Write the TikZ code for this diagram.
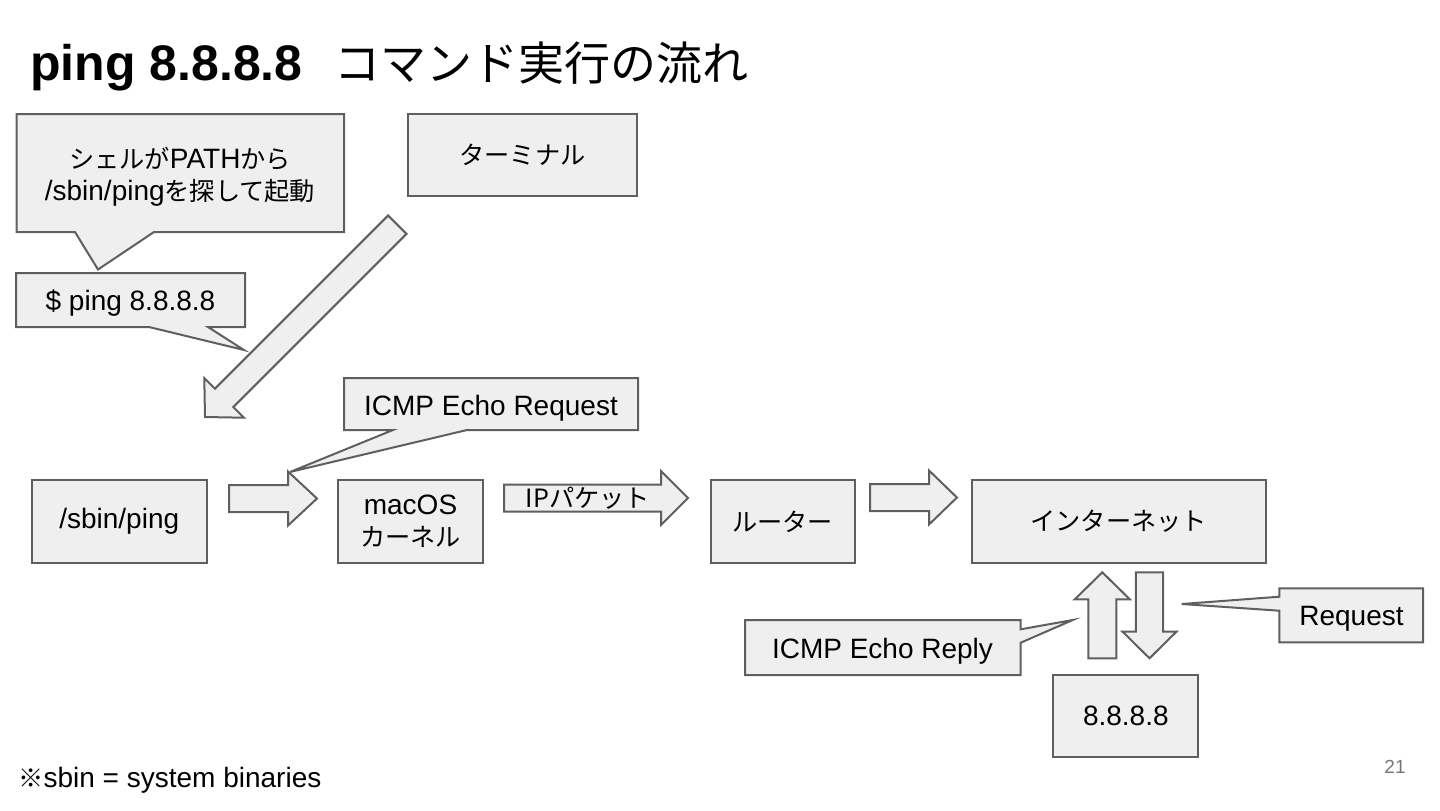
\documentclass[tikz,border=0pt]{standalone}
\usepackage{fontspec}
\setmainfont{Liberation Sans}
\newfontfamily\cjk[Scale=0.9]{Noto Sans CJK JP}
\newfontfamily\cjktitle{Noto Sans CJK JP}
\definecolor{boxfill}{HTML}{EFEFEF}
\definecolor{linegray}{HTML}{5F5F5F}
\definecolor{pagegray}{HTML}{757575}
\newcommand\mybody{\fontsize{14}{16}\selectfont}
\newcommand\blockarrow[6]{%
  \draw[barrow, shift={#1}, rotate=#2] (0,0) -- (-#4,#5) -- (-#4,#6) -- (-#3,#6) -- (-#3,-#6) -- (-#4,-#6) -- (-#4,-#5) -- cycle;}
\newcommand\pbox[6]{%
  \node[box, minimum width={(#4-#2)*0.5pt}, minimum height={(#5-#3)*0.5pt}] (#1) at ({(#2+#4)/2},{(#3+#5)/2}) {#6};}
\begin{document}
\begin{tikzpicture}[x=0.5pt,y=-0.5pt,
  box/.style={draw=linegray, fill=boxfill, line width=1pt, inner sep=0pt, align=center, font=\mybody},
  callshape/.style={draw=linegray, fill=boxfill, line width=1pt, line join=miter},
  barrow/.style={draw=linegray, fill=boxfill, line width=1pt, line join=miter},
  txt/.style={inner sep=0pt, align=center, font=\mybody}]
\useasboundingbox (0,0) rectangle (1440,810);

% title
\node[inner sep=0pt, anchor=base west, font=\fontsize{25}{29}\selectfont\bfseries] (title) at (30,80) {ping 8.8.8.8};
\node[inner sep=0pt, anchor=base west, font=\fontsize{23}{27}\selectfont\cjktitle] (titlejp) at (334,80) {コマンド実行の流れ};

% callout: shell
\draw[callshape] (16.7,114) -- (344,114) -- (344,232) -- (154,232) -- (98,269.5) -- (75,232) -- (16.7,232) -- cycle;
\node[txt] (shell) at (180,177) {{\cjk シェルが}PATH{\cjk から}\\/sbin/ping{\cjk を探して起動}};

% terminal
\pbox{term}{408}{114}{637}{196}{\cjk ターミナル}

% callout: command
\draw[callshape] (16,273) -- (245,273) -- (245,327) -- (208,327) -- (244,350) -- (149,327) -- (16,327) -- cycle;
\node[txt] (cmd) at (130.5,303.5) {\$ ping 8.8.8.8};

% big diagonal arrow
\blockarrow{(205,417)}{225}{272}{27}{28}{13}

% callout: ICMP Echo Request
\draw[callshape] (344,378) -- (638,378) -- (638,430) -- (467,430) -- (290,472) -- (393,430) -- (344,430) -- cycle;
\node[txt] (req) at (491,408) {ICMP Echo Request};

% main row
\pbox{ping}{31.5}{480}{207}{562.7}{/sbin/ping}
\pbox{kern}{338}{480}{483}{563}{macOS\\{\cjk カーネル}}
\pbox{router}{711}{480}{854.5}{562.7}{\cjk ルーター}
\pbox{inet}{971.7}{480}{1265.5}{562.7}{\cjk インターネット}
\pbox{dns}{1053.3}{675}{1198.3}{757}{8.8.8.8}

\blockarrow{(317,498.5)}{0}{88}{29}{27}{13.5}
\blockarrow{(688,498)}{0}{184}{27}{27}{13.5}
\node[txt] (iplabel) at (588,498.5) {\cjk IPパケット};
\blockarrow{(957,497.5)}{0}{87}{28}{27}{13.5}

% up / down arrows
\blockarrow{(1102.3,572.3)}{90}{86}{27}{27.5}{14}
\blockarrow{(1149.5,658.3)}{270}{86}{26.7}{27}{13.7}

% callout: ICMP Echo Reply
\draw[callshape] (745,620) -- (1020.7,620) -- (1020.7,629.3) -- (1072.7,620) -- (1020.7,642.7) -- (1020.7,675) -- (745,675) -- cycle;
\node[txt] (reply) at (882.5,651.5) {ICMP Echo Reply};

% callout: Request
\draw[callshape] (1279.3,588.3) -- (1423,588.3) -- (1423,642.3) -- (1279.3,642.3) -- (1279.3,610.7) -- (1181.7,604) -- (1279.3,596.7) -- cycle;
\node[txt] (reqsmall) at (1351.5,619) {Request};

% footnote and page number
\node[txt, anchor=base west] (note) at (18,787) {{\cjk ※}sbin = system binaries};
\node[inner sep=0pt, anchor=base east, font=\fontsize{9.5}{11}\selectfont, text=pagegray] (pnum) at (1406,773) {21};
\end{tikzpicture}
\end{document}
